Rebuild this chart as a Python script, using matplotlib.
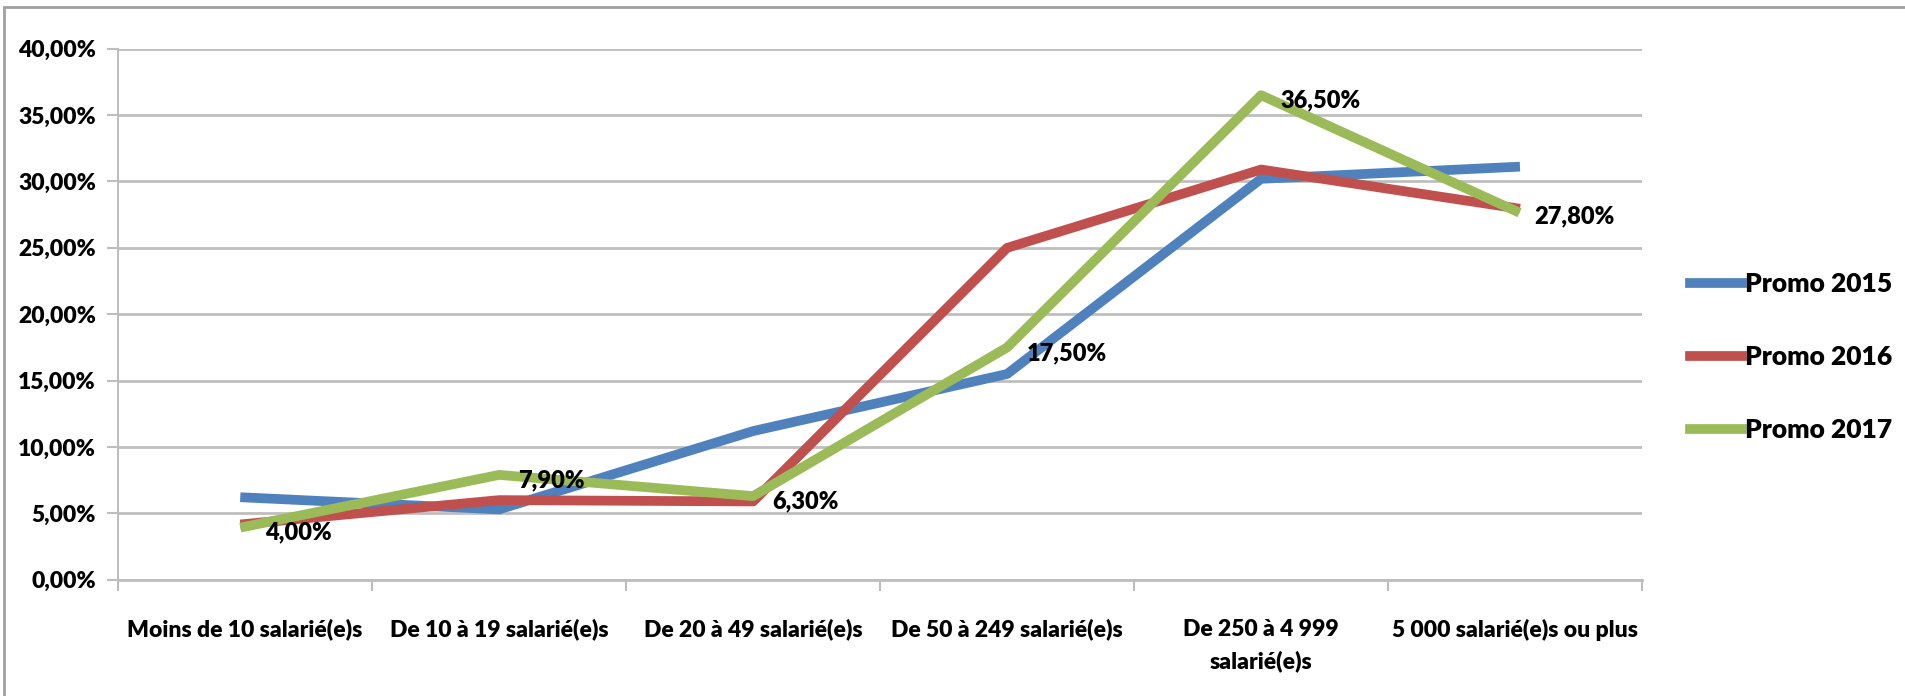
import matplotlib.pyplot as plt
from matplotlib.patches import Rectangle
from matplotlib.ticker import FuncFormatter, MultipleLocator

plt.rcParams['font.family'] = ['Lato', 'DejaVu Sans']
plt.rcParams['font.weight'] = 'heavy'

categories = ['Moins de 10 salarié(e)s', 'De 10 à 19 salarié(e)s', 'De 20 à 49 salarié(e)s',
              'De 50 à 249 salarié(e)s', 'De 250 à 4 999\nsalarié(e)s', '5 000 salarié(e)s ou plus']
promo_2015 = [6.2, 5.3, 11.2, 15.5, 30.2, 31.1]
promo_2016 = [4.2, 6.0, 5.9, 25.0, 30.9, 28.0]
promo_2017 = [4.0, 7.9, 6.3, 17.5, 36.5, 27.8]

fig = plt.figure(figsize=(19.05, 6.96), dpi=100)
ax = fig.add_axes([0.062, 0.167, 0.800, 0.763])

x = list(range(len(categories)))
ax.plot(x, promo_2015, color='#4F81BD', lw=7, label='Promo 2015')
ax.plot(x, promo_2016, color='#C0504D', lw=7, label='Promo 2016')
ax.plot(x, promo_2017, color='#9BBB59', lw=7, label='Promo 2017')

for xi, v in zip(x, promo_2017):
    ax.annotate(f'{v:.2f}%'.replace('.', ','), (xi, v), xytext=(14, -4),
                textcoords='offset points', ha='left', va='center', fontsize=17)

ax.set_xlim(-0.5, len(categories) - 0.5)
ax.set_ylim(0, 40)
ax.yaxis.set_major_locator(MultipleLocator(5))
ax.yaxis.set_major_formatter(FuncFormatter(lambda v, p: f'{v:.2f}%'.replace('.', ',')))
ax.grid(axis='y', color='#BEBEBE', lw=2)
ax.set_axisbelow(True)

ax.set_xticks(x)
ax.set_xticklabels(categories, fontsize=16.5, linespacing=1.6)
ax.set_xticks([i - 0.5 for i in range(len(categories) + 1)], minor=True)
ax.tick_params(axis='x', which='major', length=0, pad=28)
ax.tick_params(axis='x', which='minor', length=8, color='#BEBEBE', width=1.5)
ax.tick_params(axis='y', length=8, color='#BEBEBE', width=1.5, labelsize=16.5, pad=8)

for s in ['top', 'right']:
    ax.spines[s].set_visible(False)
ax.spines['left'].set_color('#BEBEBE')
ax.spines['left'].set_linewidth(1.5)
ax.spines['bottom'].set_color('#BEBEBE')
ax.spines['bottom'].set_linewidth(2)

fig.legend(loc='center left', bbox_to_anchor=(0.880, 0.487), frameon=False,
           fontsize=19, handlelength=2.0, handletextpad=0.1, labelspacing=1.85, borderpad=0)

fig.patches.append(Rectangle((0.002, -0.01), 1.2, 1.0, transform=fig.transFigure,
                             fill=False, edgecolor='#A0A0A0', lw=2))

fig.savefig('out.png', dpi=100)
